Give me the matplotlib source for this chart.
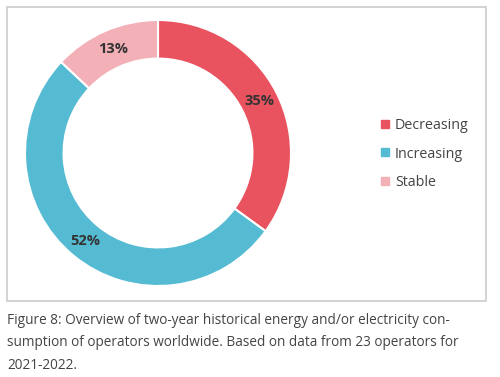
import matplotlib.pyplot as plt
import numpy as np
from matplotlib.patches import Rectangle
from matplotlib.lines import Line2D

# Data
categories = ["Decreasing", "Increasing", "Stable"]
shares = [35, 52, 13]
colors = ["#E9535F", "#55BBD3", "#F3B0B6"]
caption = ("Figure 8: Overview of two-year historical energy and/or electricity con-\n"
           "sumption of operators worldwide. Based on data from 23 operators for\n"
           "2021-2022.")

W, H = 500, 377
plt.rcParams["font.family"] = ["Open Sans", "DejaVu Sans"]
fig = plt.figure(figsize=(W / 100, H / 100), dpi=100)

# Frame around the chart
fig.patches.append(Rectangle((6.5 / W, 1 - 300.5 / H), 479.5 / W, 294 / H,
                             transform=fig.transFigure, fill=False,
                             edgecolor="#cccccc", lw=1.2))

# Donut
cx, cy, r = 158, 153, 133
ax = fig.add_axes([(cx - r) / W, 1 - (cy + r) / H, 2 * r / W, 2 * r / H])
ring = 0.29
wedges, _ = ax.pie(shares, colors=colors, startangle=90, counterclock=False,
                   radius=1, wedgeprops=dict(width=ring, edgecolor="white", linewidth=1.5))
for w, v in zip(wedges, shares):
    ang = np.deg2rad((w.theta1 + w.theta2) / 2)
    rr = 1 - ring / 2
    ax.text(rr * np.cos(ang), rr * np.sin(ang), f"{v}%", ha="center", va="center",
            fontsize=10.5, fontweight="bold", color="#333333")
ax.set_xlim(-1, 1)
ax.set_ylim(-1, 1)
ax.set_aspect("equal")
ax.axis("off")

# Legend
handles = [Line2D([], [], marker="s", color=c, linestyle="none", markersize=6)
           for c in colors]
fig.legend(handles, categories, loc="center left",
           bbox_to_anchor=(364 / W, 1 - 154 / H), frameon=False,
           handletextpad=0.05, labelspacing=0.95, fontsize=10.3,
           labelcolor="#444444", handlelength=1.2)

# Caption
fig.text(7 / W, 1 - 313 / H, caption, ha="left", va="top", fontsize=9.8,
         color="#444444", linespacing=1.68)

fig.savefig("out.png", dpi=100)
